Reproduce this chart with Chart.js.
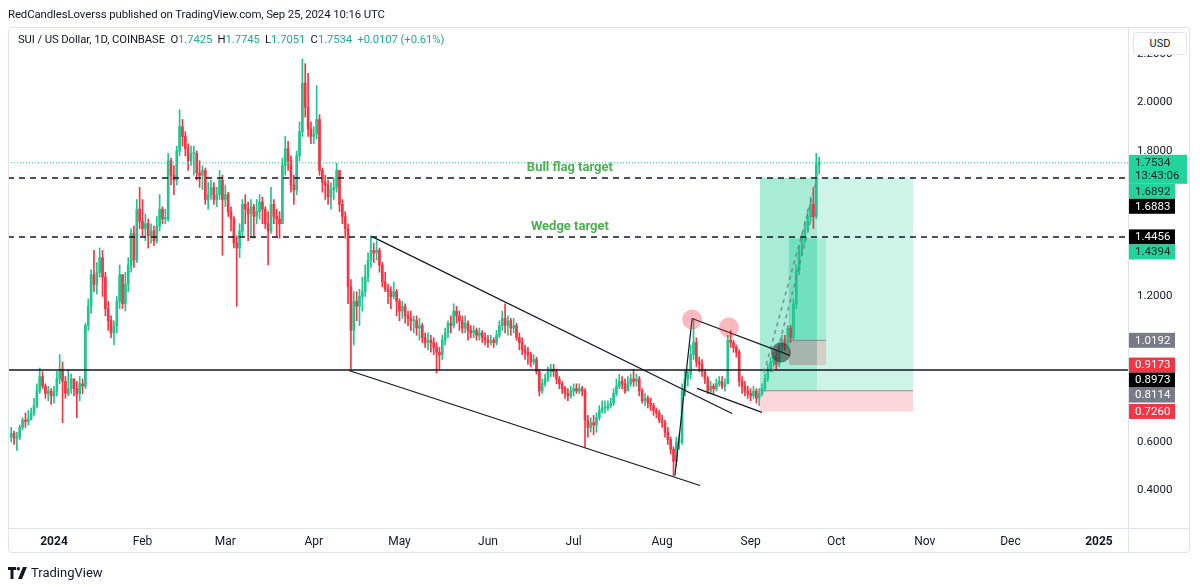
<!DOCTYPE html>
<html>
<head>
<meta charset="utf-8">
<script src="https://cdn.jsdelivr.net/npm/chart.js@4.4.1/dist/chart.umd.min.js"></script>
<style>
  html, body { margin: 0; padding: 0; background: #fff; }
  body { width: 1200px; height: 587px; position: relative; overflow: hidden; font-family: Roboto, "Noto Sans", sans-serif; color: #131722; }
  canvas { position: absolute; left: 0; top: 0; }
  .frame { position: absolute; left: 8px; top: 27px; width: 1182px; height: 526px; border: 1px solid #e0e3eb; border-radius: 4px; box-sizing: border-box; pointer-events: none; }
  .vsep { position: absolute; left: 1128px; top: 27px; width: 1px; height: 526px; background: #e0e3eb; }
  .hsep { position: absolute; left: 8px; top: 528px; width: 1182px; height: 1px; background: #e0e3eb; }
  .pub { position: absolute; left: 8px; top: 7px; font-size: 11.4px; letter-spacing: -0.1px; }
  .legend { position: absolute; left: 18px; top: 33px; font-size: 11.3px; letter-spacing: -0.1px; white-space: pre; }
  .legend .v { color: #22ab94; }
  .usd { position: absolute; left: 1133px; top: 32px; width: 52px; height: 21px; border: 1px solid #e0e3eb; border-radius: 4px; background: #fff; font-size: 11px; text-align: center; line-height: 21px; }
  .brand { position: absolute; left: 8px; top: 565px; font-size: 13px; display: flex; align-items: center; gap: 3px; }
</style>
</head>
<body>
<canvas id="chart" width="1200" height="587"></canvas>
<div class="frame"></div>
<div class="vsep"></div>
<div class="hsep"></div>
<div class="pub">RedCandlesLoverss published on TradingView.com, Sep 25, 2024 10:16 UTC</div>
<div class="legend">SUI / US Dollar, 1D, COINBASE  O<span class="v">1.7425</span>  H<span class="v">1.7745</span>  L<span class="v">1.7051</span>  C<span class="v">1.7534</span>  <span class="v">+0.0107 (+0.61%)</span></div>
<div class="usd">USD</div>
<div class="brand">
  <svg width="20" height="12" viewBox="0 0 20 12"><path d="M0 0h8v3H5.5v9h-3V3H0z" fill="#131722"/><circle cx="10.3" cy="1.8" r="1.7" fill="#131722"/><path d="M15 0h4l-5 12h-4z" fill="#131722"/></svg>
  <span>TradingView</span>
</div>
<script>
// daily candles, first one is Dec 17 2023 (day -15 counted from Jan 1 2024)
const firstDay = -15;
const firstOpen = 0.62;
const closes = [
  0.635,0.615,0.62,0.66,0.69,0.685,0.695,0.72,0.75,0.81,
  0.87,0.83,0.80,0.81,0.79,0.81,0.86,0.90,0.85,0.80,
  0.82,0.86,0.82,0.80,0.84,0.83,1.08,1.16,1.29,1.25,
  1.30,1.36,1.28,1.15,1.10,1.05,1.08,1.18,1.29,1.17,
  1.25,1.33,1.46,1.35,1.56,1.51,1.48,1.50,1.45,1.47,
  1.43,1.49,1.56,1.52,1.52,1.76,1.70,1.68,1.80,1.90,
  1.86,1.81,1.76,1.79,1.79,1.71,1.70,1.72,1.60,1.62,
  1.65,1.60,1.62,1.68,1.60,1.62,1.55,1.52,1.42,1.40,
  1.47,1.58,1.56,1.54,1.57,1.53,1.55,1.59,1.56,1.50,
  1.47,1.58,1.53,1.52,1.50,1.74,1.81,1.76,1.66,1.64,
  1.78,1.88,2.08,1.98,1.89,1.86,1.87,1.93,1.72,1.67,
  1.66,1.61,1.64,1.65,1.72,1.58,1.53,1.48,1.24,1.06,
  1.18,1.16,1.20,1.22,1.28,1.35,1.39,1.38,1.39,1.33,
  1.26,1.23,1.22,1.20,1.22,1.18,1.14,1.16,1.12,1.11,
  1.10,1.10,1.07,1.08,1.03,1.01,1.02,1.01,0.99,0.97,
  0.96,1.02,1.05,1.09,1.08,1.14,1.12,1.10,1.07,1.09,
  1.06,1.05,1.06,1.04,1.05,1.03,1.02,1.01,1.02,1.01,
  1.04,1.08,1.11,1.08,1.10,1.07,1.08,1.03,1.01,0.98,
  0.97,0.96,0.93,0.94,0.89,0.81,0.84,0.86,0.89,0.90,
  0.89,0.86,0.84,0.82,0.80,0.79,0.81,0.82,0.81,0.82,
  0.81,0.69,0.66,0.68,0.67,0.70,0.73,0.74,0.74,0.75,
  0.76,0.80,0.83,0.85,0.84,0.81,0.84,0.86,0.85,0.86,
  0.81,0.77,0.78,0.76,0.75,0.73,0.72,0.69,0.68,0.64,
  0.61,0.57,0.52,0.60,0.60,0.81,0.86,0.88,0.96,1.01,
  0.93,0.92,0.89,0.86,0.81,0.83,0.82,0.84,0.85,0.83,
  0.84,1.02,1.01,0.99,0.97,0.85,0.83,0.81,0.80,0.79,
  0.81,0.78,0.80,0.82,0.86,0.90,0.93,0.95,0.92,0.99,
  1.02,1.00,1.07,1.03,1.17,1.31,1.39,1.44,1.48,1.53,
  1.58,1.53,1.7425,1.7534
];
const highs = [
  0.66,0.645,0.64,0.67,0.70,0.72,0.73,0.74,0.78,0.84,
  0.905,0.89,0.84,0.83,0.82,0.83,0.89,0.96,0.93,0.87,
  0.90,0.88,0.86,0.85,0.87,0.86,1.09,1.19,1.31,1.39,
  1.34,1.40,1.39,1.30,1.18,1.12,1.10,1.20,1.33,1.29,
  1.30,1.36,1.48,1.49,1.60,1.65,1.60,1.54,1.52,1.50,
  1.49,1.53,1.62,1.57,1.56,1.79,1.77,1.74,1.82,1.97,
  1.93,1.88,1.83,1.82,1.82,1.80,1.76,1.74,1.73,1.67,
  1.68,1.67,1.65,1.72,1.70,1.66,1.63,1.57,1.53,1.45,
  1.50,1.60,1.62,1.59,1.60,1.58,1.60,1.62,1.61,1.57,
  1.55,1.65,1.60,1.56,1.55,1.77,1.86,1.84,1.78,1.70,
  1.80,1.92,2.18,2.16,2.12,1.92,1.90,2.07,1.95,1.73,
  1.70,1.68,1.67,1.69,1.75,1.72,1.60,1.55,1.50,1.27,
  1.22,1.22,1.23,1.28,1.33,1.38,1.45,1.42,1.43,1.40,
  1.34,1.30,1.25,1.24,1.26,1.23,1.19,1.18,1.17,1.14,
  1.14,1.12,1.12,1.11,1.09,1.05,1.05,1.04,1.03,1.01,
  0.99,1.04,1.07,1.10,1.12,1.17,1.16,1.14,1.12,1.12,
  1.10,1.08,1.08,1.07,1.07,1.06,1.05,1.04,1.04,1.03,
  1.06,1.10,1.14,1.17,1.12,1.11,1.11,1.09,1.05,1.03,
  1.00,0.99,0.97,0.96,0.95,0.90,0.86,0.88,0.91,0.92,
  0.92,0.90,0.87,0.85,0.83,0.82,0.83,0.84,0.84,0.84,
  0.83,0.82,0.71,0.70,0.71,0.72,0.75,0.77,0.77,0.77,
  0.78,0.82,0.86,0.88,0.87,0.86,0.87,0.88,0.90,0.88,
  0.87,0.82,0.80,0.79,0.78,0.76,0.74,0.73,0.71,0.69,
  0.66,0.62,0.58,0.62,0.63,0.84,0.90,0.90,1.00,1.11,
  1.03,0.95,0.94,0.90,0.87,0.85,0.84,0.86,0.87,0.87,
  0.86,1.04,1.06,1.02,1.00,0.98,0.87,0.85,0.83,0.82,
  0.83,0.82,0.82,0.84,0.88,0.92,0.95,0.97,0.98,1.01,
  1.04,1.04,1.08,1.08,1.19,1.33,1.41,1.46,1.51,1.56,
  1.61,1.65,1.79,1.7745
];
const lows = [
  0.60,0.59,0.565,0.61,0.65,0.66,0.67,0.69,0.71,0.74,
  0.80,0.82,0.78,0.77,0.755,0.76,0.79,0.84,0.68,0.78,
  0.79,0.80,0.79,0.70,0.77,0.80,0.82,1.06,1.13,1.22,
  1.21,1.28,1.20,1.12,1.06,1.03,1.00,1.05,1.15,1.15,
  1.14,1.22,1.30,1.32,1.34,1.48,1.45,1.43,1.40,1.42,
  1.41,1.42,1.47,1.50,1.50,1.51,1.66,1.62,1.66,1.78,
  1.82,1.78,1.72,1.74,1.70,1.68,1.65,1.64,1.58,1.56,
  1.60,1.58,1.57,1.60,1.37,1.57,1.53,1.47,1.40,1.16,
  1.36,1.45,1.50,1.43,1.44,1.44,1.50,1.52,1.50,1.48,
  1.33,1.46,1.50,1.45,1.44,1.50,1.70,1.72,1.63,1.58,
  1.62,1.76,1.86,1.94,1.86,1.83,1.83,1.85,1.70,1.63,
  1.60,1.58,1.56,1.60,1.63,1.55,1.50,1.44,1.17,0.895,
  1.00,1.10,1.08,1.14,1.20,1.26,1.32,1.34,1.35,1.30,
  1.24,1.22,1.17,1.15,1.19,1.12,1.10,1.11,1.09,1.08,
  1.06,1.05,1.04,1.02,1.01,0.99,0.98,0.97,0.96,0.885,
  0.90,0.94,1.00,1.03,1.05,1.07,1.09,1.06,1.05,1.05,
  1.02,1.03,1.03,1.02,1.02,1.01,1.00,0.99,1.00,0.99,
  1.00,1.03,1.06,1.05,1.04,1.04,1.05,1.02,0.98,0.96,
  0.94,0.92,0.91,0.92,0.88,0.79,0.80,0.83,0.85,0.87,
  0.87,0.84,0.82,0.80,0.78,0.77,0.78,0.79,0.80,0.80,
  0.79,0.58,0.62,0.64,0.63,0.64,0.69,0.72,0.72,0.73,
  0.74,0.75,0.79,0.82,0.82,0.80,0.82,0.83,0.83,0.83,
  0.79,0.76,0.75,0.74,0.73,0.71,0.70,0.68,0.66,0.62,
  0.59,0.55,0.46,0.50,0.57,0.59,0.79,0.83,0.86,0.94,
  0.91,0.89,0.87,0.84,0.80,0.80,0.80,0.81,0.83,0.82,
  0.81,0.84,0.99,0.97,0.95,0.83,0.80,0.79,0.78,0.77,
  0.78,0.76,0.75,0.79,0.81,0.85,0.89,0.91,0.90,0.91,
  0.97,0.98,0.99,1.01,1.02,1.15,1.29,1.37,1.42,1.47,
  1.51,1.48,1.52,1.7051
];

// time axis: month starts (days from Jan 1 2024) and their labels
const monthDays = [0, 31, 60, 91, 121, 152, 182, 213, 244, 274, 305, 335, 366];
const monthLabels = ['2024', 'Feb', 'Mar', 'Apr', 'May', 'Jun', 'Jul', 'Aug', 'Sep', 'Oct', 'Nov', 'Dec', '2025'];
const priceTicks = [2.2, 2.0, 1.8, 1.2, 0.6, 0.4];

// drawings (day, price)
const hLevelsDashed = [1.6883, 1.4456];
const hLevelSolid = 0.8973;
const lastPrice = 1.7534;
const wedgeUpper = [[111.4, 1.447], [237.5, 0.7175]];
const wedgeLower = [[103.3, 0.8948], [226.3, 0.4206]];
const impulseLine = [[217.5, 0.462], [223.5, 1.109]];
const flagUpper = [[223.5, 1.109], [257.8, 0.957]];
const flagLower = [[225.2, 0.821], [248.0, 0.722]];
const pinkCircles = [[223.5, 1.105], [236.4, 1.072]];
const grayCircle = [254.6, 0.969];
const longPos = { start: 247.3, end: 300.9, now: 267.2, target: 1.6892, entry: 0.8114, stop: 0.7260 };
const longPos2 = { start: 257.4, end: 270.4, now: 267.2, target: 1.4394, entry: 1.0192, stop: 0.9173 };
const pathLines = [[[248.7, 0.8866], [267.3, 1.6866]], [[251.5, 0.8866], [265.5, 1.534]]];
const notes = [['Bull flag target', 180.7, 1.732], ['Wedge target', 180.7, 1.489]];

const axisLabelPrices = [1.7534, 1.6892, 1.6883, 1.4456, 1.4394, 1.0192, 0.9173, 0.8973, 0.8114, 0.7260];
const axisLabelKinds = ['last', 'green', 'black', 'black', 'green', 'gray', 'red', 'black', 'gray', 'red'];
const countdown = '13:43:06';

const UP = '#22c48f';
const DOWN = '#f23645';
const FONT = 'Roboto, "Noto Sans", sans-serif';

const opens = closes.map((c, i) => i === 0 ? firstOpen : closes[i - 1]);
const days = closes.map((c, i) => firstDay + i);
const colorOf = ctx => closes[ctx.dataIndex] >= opens[ctx.dataIndex] ? UP : DOWN;

const drawings = {
  id: 'drawings',
  beforeDatasetsDraw(chart) {
    const { ctx, chartArea: a } = chart;
    const X = v => chart.scales.x.getPixelForValue(v);
    const Y = v => chart.scales.y.getPixelForValue(v);
    ctx.save();
    ctx.beginPath();
    ctx.rect(a.left, a.top, a.right - a.left, a.bottom - a.top);
    ctx.clip();
    [longPos, longPos2].forEach(p => {
      ctx.fillStyle = 'rgba(34,204,150,0.22)';
      ctx.fillRect(X(p.start), Y(p.target), X(p.end) - X(p.start), Y(p.entry) - Y(p.target));
      ctx.fillStyle = 'rgba(242,54,69,0.2)';
      ctx.fillRect(X(p.start), Y(p.entry), X(p.end) - X(p.start), Y(p.stop) - Y(p.entry));
      ctx.fillStyle = 'rgba(34,204,150,0.22)';
      ctx.fillRect(X(p.start), Y(p.target), X(p.now) - X(p.start), Y(p.entry) - Y(p.target));
    });
    ctx.fillStyle = 'rgba(120,123,134,0.25)';
    ctx.fillRect(X(longPos2.start), Y(longPos2.entry), X(longPos2.now) - X(longPos2.start), Y(longPos2.stop) - Y(longPos2.entry));
    ctx.strokeStyle = 'rgba(120,123,134,0.8)';
    ctx.lineWidth = 1;
    ctx.beginPath();
    ctx.moveTo(X(longPos2.start), Y(longPos2.entry));
    ctx.lineTo(X(longPos2.end), Y(longPos2.entry));
    ctx.moveTo(X(longPos.start), Y(longPos.entry));
    ctx.lineTo(X(longPos.end), Y(longPos.entry));
    ctx.stroke();
    ctx.restore();
  },
  afterDatasetsDraw(chart) {
    const { ctx, chartArea: a } = chart;
    const X = v => chart.scales.x.getPixelForValue(v);
    const Y = v => chart.scales.y.getPixelForValue(v);
    const seg = (p, q) => { ctx.beginPath(); ctx.moveTo(X(p[0]), Y(p[1])); ctx.lineTo(X(q[0]), Y(q[1])); ctx.stroke(); };
    ctx.save();
    ctx.beginPath();
    ctx.rect(a.left, a.top, a.right - a.left, a.bottom - a.top);
    ctx.clip();

    // price line
    ctx.strokeStyle = '#22c48f';
    ctx.lineWidth = 1;
    ctx.setLineDash([1, 2]);
    ctx.beginPath(); ctx.moveTo(a.left, Y(lastPrice) + 0.5); ctx.lineTo(a.right, Y(lastPrice) + 0.5); ctx.stroke();

    // horizontal levels
    ctx.strokeStyle = '#131722';
    ctx.lineWidth = 1.5;
    ctx.setLineDash([6, 5]);
    hLevelsDashed.forEach(v => { ctx.beginPath(); ctx.moveTo(a.left, Y(v)); ctx.lineTo(a.right, Y(v)); ctx.stroke(); });
    ctx.setLineDash([]);
    ctx.beginPath(); ctx.moveTo(a.left, Y(hLevelSolid)); ctx.lineTo(a.right, Y(hLevelSolid)); ctx.stroke();

    // projection path
    ctx.strokeStyle = 'rgba(120,123,134,0.85)';
    ctx.lineWidth = 1.5;
    ctx.setLineDash([4, 4]);
    pathLines.forEach(l => seg(l[0], l[1]));
    ctx.setLineDash([]);

    // wedge and flag
    ctx.strokeStyle = '#131722';
    ctx.lineWidth = 1.2;
    [wedgeUpper, wedgeLower, impulseLine, flagUpper, flagLower].forEach(l => seg(l[0], l[1]));

    ctx.fillStyle = 'rgba(242,54,69,0.35)';
    pinkCircles.forEach(c => { ctx.beginPath(); ctx.arc(X(c[0]), Y(c[1]), 10, 0, Math.PI * 2); ctx.fill(); });
    ctx.fillStyle = 'rgba(40,40,40,0.55)';
    ctx.beginPath(); ctx.arc(X(grayCircle[0]), Y(grayCircle[1]), 10, 0, Math.PI * 2); ctx.fill();

    ctx.fillStyle = '#4caf50';
    ctx.font = 'bold 13px ' + FONT;
    ctx.textAlign = 'center';
    ctx.textBaseline = 'middle';
    notes.forEach(n => ctx.fillText(n[0], X(n[1]), Y(n[2])));
    ctx.restore();
  },
  afterDraw(chart) {
    const { ctx } = chart;
    const Y = v => chart.scales.y.getPixelForValue(v);
    const bg = { last: '#22d39b', green: '#22d39b', black: '#000000', gray: '#787b86', red: '#f23645' };
    const fg = { last: '#0c2a1f', green: '#0c2a1f', black: '#ffffff', gray: '#ffffff', red: '#ffffff' };
    ctx.save();
    ctx.font = '11.5px ' + FONT;
    ctx.textBaseline = 'middle';
    ctx.textAlign = 'left';
    let bottom = 0;
    axisLabelPrices.forEach((p, i) => {
      const kind = axisLabelKinds[i];
      const h = kind === 'last' ? 29 : 15;
      const w = kind === 'last' ? 58 : 46;
      const top = Math.max(Y(p) - 7.5, bottom);
      ctx.fillStyle = bg[kind];
      ctx.fillRect(1129, top, w, h);
      ctx.fillStyle = fg[kind];
      ctx.fillText(p.toFixed(4), 1135, top + 8);
      if (kind === 'last') ctx.fillText(countdown, 1135, top + 21.5);
      bottom = top + h;
    });
    ctx.restore();
  }
};

new Chart(document.getElementById('chart'), {
  type: 'bar',
  data: {
    datasets: [
      {
        data: days.map((d, i) => ({ x: d, y: [lows[i], highs[i]] })),
        backgroundColor: colorOf,
        barThickness: 1,
        grouped: false,
        borderWidth: 0
      },
      {
        data: days.map((d, i) => ({ x: d, y: [Math.min(opens[i], closes[i]), Math.max(opens[i], closes[i])] })),
        backgroundColor: colorOf,
        barThickness: 2,
        minBarLength: 1,
        grouped: false,
        borderWidth: 0
      }
    ]
  },
  options: {
    responsive: false,
    devicePixelRatio: 1,
    animation: false,
    layout: { padding: { left: 8, top: 27, right: 0, bottom: 0 } },
    plugins: { legend: { display: false }, tooltip: { enabled: false } },
    scales: {
      x: {
        type: 'linear',
        min: -16.11,
        max: 376.18,
        offset: false,
        grid: { display: false, drawTicks: false },
        border: { display: false },
        afterBuildTicks: s => { s.ticks = monthDays.map(v => ({ value: v })); },
        afterFit: s => { s.height = 59; },
        ticks: {
          autoSkip: false,
          maxRotation: 0,
          padding: 7,
          color: '#131722',
          font: c => ({ family: FONT, size: 12, weight: (c.index === 0 || c.index === monthDays.length - 1) ? 'bold' : 'normal' }),
          callback: (v, i) => monthLabels[i]
        }
      },
      y: {
        position: 'right',
        min: 0.2453,
        max: 2.3113,
        beginAtZero: false,
        grid: { display: false, drawTicks: false },
        border: { display: false },
        afterBuildTicks: s => { s.ticks = priceTicks.map(v => ({ value: v })); },
        afterFit: s => { s.width = 72; },
        ticks: {
          padding: 9,
          color: '#131722',
          font: { family: FONT, size: 11.5 },
          callback: v => v.toFixed(4)
        }
      }
    }
  },
  plugins: [drawings]
});
</script>
</body>
</html>
